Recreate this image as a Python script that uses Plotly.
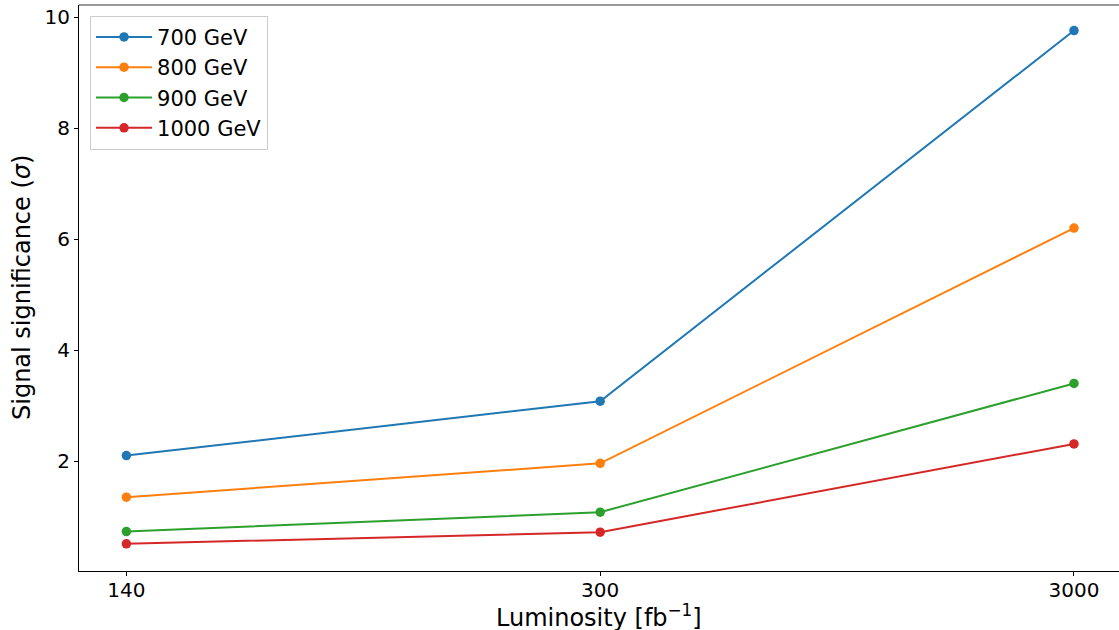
import plotly.graph_objects as go

luminosity = ["140", "300", "3000"]
series_names = ["700 GeV", "800 GeV", "900 GeV", "1000 GeV"]
sig_700 = [2.10, 3.08, 9.76]
sig_800 = [1.35, 1.96, 6.20]
sig_900 = [0.73, 1.08, 3.40]
sig_1000 = [0.51, 0.72, 2.31]
colors = ["#1f77b4", "#ff7f0e", "#2ca02c", "#d62728"]
y_ticks = [2, 4, 6, 8, 10]

fig = go.Figure()
for name, vals, c in zip(series_names, [sig_700, sig_800, sig_900, sig_1000], colors):
    fig.add_trace(go.Scatter(
        x=list(range(len(luminosity))), y=vals, name=name, mode="lines+markers",
        line=dict(color=c, width=2), marker=dict(color=c, size=9.5)))

font = "DejaVu Sans, Arial, sans-serif"
fig.update_layout(
    width=1119, height=630,
    margin=dict(l=79, r=0, t=5, b=59),
    paper_bgcolor="white", plot_bgcolor="white",
    font=dict(family=font, size=20, color="black"),
    showlegend=True,
    legend=dict(x=0.0106, y=0.981, xanchor="left", yanchor="top",
                bgcolor="rgba(255,255,255,0.8)", bordercolor="#cccccc", borderwidth=1,
                font=dict(size=21), tracegroupgap=0, itemwidth=56),
    annotations=[
        dict(text="Luminosity [fb<sup>−1</sup>]", xref="paper", yref="paper",
             x=0.5, y=-0.079, xanchor="center", yanchor="middle", showarrow=False,
             font=dict(size=24)),
        dict(text="Signal significance (<i>σ</i>)", xref="paper", yref="paper",
             x=-0.0548, y=0.5, xanchor="center", yanchor="middle", showarrow=False,
             textangle=-90, font=dict(size=24)),
    ],
    shapes=[dict(type="line", xref="paper", yref="paper", x0=0, x1=1, y0=1, y1=1,
                 line=dict(color="#777777", width=1.5))],
)
fig.update_xaxes(
    range=[-0.1, 2.095], tickmode="array", tickvals=list(range(len(luminosity))),
    ticktext=luminosity, showgrid=False, zeroline=False, automargin=False,
    showline=True, linecolor="black", linewidth=1,
    ticks="outside", ticklen=4, tickcolor="black", tickfont=dict(size=20),
    ticklabelstandoff=-3,
)
fig.update_yaxes(
    range=[0.02, 10.22], tickmode="array", tickvals=y_ticks,
    showgrid=False, zeroline=False, automargin=False,
    showline=True, linecolor="black", linewidth=1,
    ticks="outside", ticklen=4, tickcolor="black", tickfont=dict(size=20),
)
fig.write_html("out.html", config={"displayModeBar": False},
               post_script="document.body.style.margin='0';document.body.style.padding='0';")
